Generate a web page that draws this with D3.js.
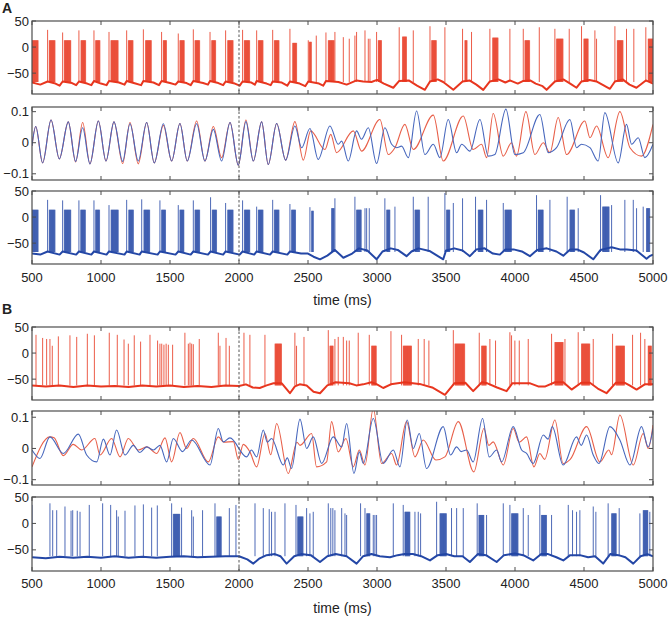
<!DOCTYPE html>
<html><head><meta charset="utf-8">
<script src="https://cdn.jsdelivr.net/npm/d3@7"></script>
<style>body{margin:0;background:#fff}svg{display:block}text{font-family:Arial,"Liberation Sans",Helvetica,sans-serif;fill:#222}</style>
</head><body><svg id="c" width="672" height="620"></svg>
<script>
// ---------------- DATA ----------------
const xTicks=[500,1000,1500,2000,2500,3000,3500,4000,4500,5000];
const vTicks=[-50,0,50];
const lfpTicks=[-0.1,0,0.1];
const markerTime=2000;

// Panel A, top trace (red): single spikes [ms, mV], dense bursts [start, end, plateau mV], baseline [ms, mV]
const spikesA1=[[613,33],[722,28],[840,32],[949,32],[1058,29],[1186,32],[1307,34],[1439,29],[1560,26],[1669,34],[1790,29],[1903,32],[2026,33],[2128,32],[2244,33],[2369,35],[2502,13],[2560,22],[2630,28],[2695,29],[2756,19],[2799,16],[2840,22],[2852,29],[2913,32],[2937,16],[2949,16],[2997,29],[3161,38],[3263,32],[3384,40],[3492,38],[3620,35],[3685,29],[3818,35],[3963,35],[4060,35],[4176,38],[4289,35],[4393,35],[4482,40],[4579,32],[4591,16],[4724,40],[4808,35],[4861,35],[4948,38]];
const burstsA1=[[500,545,13],[625,667,13],[734,782,13],[855,891,13],[961,993,13],[1072,1125,13],[1198,1234,13],[1323,1367,13],[1451,1476,13],[1572,1604,13],[1681,1717,13],[1802,1833,13],[1918,1959,13],[2038,2079,13],[2140,2176,13],[2256,2290,13],[2389,2418,8],[2509,2526,10],[2647,2690,13],[3009,3033,13],[3185,3214,20],[3396,3432,13],[3637,3654,13],[3838,3879,18],[4072,4108,13],[4301,4350,16],[4499,4531,16],[4741,4784,13],[4965,5000,16]];
const baseA1=[[500,-68],[560,-72],[613,-66],[670,-70],[700,-74],[722,-66],[790,-69],[820,-73],[840,-66],[900,-70],[930,-73],[949,-65],[1000,-70],[1040,-73],[1058,-65],[1130,-68],[1170,-72],[1186,-65],[1250,-70],[1290,-73],[1307,-65],[1380,-68],[1420,-73],[1439,-65],[1500,-69],[1540,-72],[1560,-66],[1620,-69],[1650,-73],[1669,-65],[1740,-69],[1775,-72],[1790,-65],[1850,-69],[1885,-73],[1903,-66],[1970,-70],[2005,-74],[2026,-66],[2090,-68],[2115,-72],[2128,-65],[2200,-70],[2230,-73],[2244,-66],[2310,-68],[2350,-74],[2369,-66],[2440,-70],[2480,-75],[2502,-66],[2580,-70],[2610,-74],[2630,-65],[2720,-67],[2780,-72],[2852,-64],[2900,-66],[2960,-67],[3000,-63],[3050,-70],[3118,-78],[3161,-65],[3230,-64],[3290,-74],[3347,-82],[3384,-66],[3440,-62],[3480,-67],[3553,-82],[3620,-66],[3670,-64],[3720,-72],[3770,-82],[3818,-66],[3880,-62],[3930,-68],[3963,-64],[4020,-70],[4060,-65],[4110,-64],[4150,-70],[4200,-75],[4229,-82],[4289,-66],[4350,-62],[4400,-70],[4446,-78],[4482,-66],[4540,-63],[4590,-66],[4688,-80],[4724,-66],[4780,-62],[4830,-72],[4880,-78],[4948,-64],[5000,-70]];

// Panel A, LFP traces (extrema, [ms, value])
const lfpARed=[[500,-0.01],[527,0.052],[577,-0.065],[638,0.073],[698,-0.052],[763,0.067],[816,-0.062],[867,0.065],[920,-0.068],[981,0.07],[1036,-0.059],[1094,0.067],[1157,-0.067],[1210,0.065],[1270,-0.068],[1331,0.065],[1386,-0.065],[1452,0.056],[1512,-0.059],[1572,0.062],[1625,-0.059],[1693,0.07],[1753,-0.059],[1814,0.052],[1874,-0.048],[1935,0.065],[1995,-0.072],[2050,0.073],[2104,-0.059],[2164,0.067],[2212,-0.07],[2273,0.062],[2338,-0.056],[2405,0.068],[2466,-0.056],[2519,0.038],[2623,-0.022],[2665,0.027],[2707,-0.032],[2828,0.038],[2888,-0.027],[3021,0.075],[3082,-0.038],[3130,-0.016],[3202,0.059],[3263,-0.022],[3408,0.089],[3480,-0.059],[3625,0.086],[3697,-0.022],[3758,-0.005],[3794,-0.048],[3842,0.094],[3915,-0.043],[3975,0],[4011,-0.043],[4079,0.1],[4144,-0.038],[4205,0],[4253,-0.032],[4313,0.081],[4374,-0.038],[4506,0.07],[4543,0.016],[4591,0.054],[4675,-0.048],[4760,0.1],[4833,-0.016],[4917,-0.043],[5000,0.059]];
const lfpABlue=[[500,-0.01],[527,0.052],[577,-0.065],[638,0.073],[698,-0.052],[763,0.067],[816,-0.06],[867,0.048],[920,-0.068],[981,0.07],[1036,-0.059],[1094,0.067],[1157,-0.06],[1210,0.061],[1270,-0.059],[1331,0.065],[1386,-0.065],[1452,0.061],[1512,-0.059],[1572,0.062],[1625,-0.059],[1693,0.061],[1753,-0.059],[1814,0.043],[1874,-0.059],[1935,0.065],[1995,-0.072],[2050,0.068],[2104,-0.059],[2164,0.067],[2212,-0.07],[2273,0.062],[2338,-0.056],[2405,0.054],[2454,-0.016],[2514,0.046],[2574,-0.054],[2659,0.054],[2719,-0.005],[2744,0.005],[2792,-0.059],[2852,0.038],[2888,0.011],[2937,0.048],[2997,-0.067],[3057,0.048],[3106,-0.005],[3142,-0.016],[3178,-0.011],[3227,-0.048],[3287,0.102],[3347,-0.038],[3408,-0.005],[3456,-0.048],[3516,0.075],[3577,-0.032],[3614,-0.005],[3673,-0.027],[3746,0.075],[3806,-0.043],[3854,-0.038],[3934,0.108],[3999,-0.038],[4060,-0.032],[4180,0.091],[4241,-0.032],[4301,-0.016],[4398,0.075],[4446,-0.016],[4482,-0.005],[4543,-0.016],[4603,-0.059],[4651,0.097],[4748,-0.065],[4808,0.059],[4845,-0.005],[4893,0.016],[4941,-0.048],[5000,-0.005]];

// Panel A, bottom trace (blue)
const spikesA3=[[613,33],[722,32],[840,32],[949,32],[1058,23],[1186,33],[1295,34],[1427,32],[1560,23],[1669,32],[1794,38],[1903,27],[2026,32],[2128,20],[2244,33],[2369,25],[2514,19],[2695,36],[2840,39],[2913,17],[2925,17],[2944,17],[3057,36],[3130,20],[3263,39],[3371,39],[3492,46],[3553,27],[3620,36],[3714,39],[3794,33],[3915,27],[4156,42],[4253,33],[4378,39],[4458,17],[4620,42],[4700,23],[4796,33],[4857,33],[4881,17],[4929,20]];
const burstsA3=[[500,545,14],[625,667,14],[734,782,14],[853,889,14],[961,992,14],[1073,1126,14],[1201,1237,14],[1311,1355,14],[1439,1470,14],[1572,1603,14],[1681,1717,14],[1806,1838,14],[1918,1959,14],[2039,2080,14],[2140,2176,14],[2256,2290,14],[2381,2410,14],[2526,2540,12],[2671,2690,17],[2852,2888,14],[3070,3094,14],[3275,3311,14],[3504,3528,14],[3734,3770,14],[3927,3975,14],[4168,4205,14],[4398,4434,14],[4635,4683,20],[4953,4977,17]];
const baseA3=[[500,-70],[560,-72],[613,-66],[700,-72],[722,-66],[820,-72],[840,-66],[930,-72],[949,-66],[1040,-72],[1058,-66],[1170,-72],[1186,-66],[1280,-72],[1295,-66],[1410,-72],[1427,-66],[1540,-72],[1560,-66],[1650,-72],[1669,-66],[1775,-72],[1794,-66],[1885,-72],[1903,-66],[2005,-72],[2026,-66],[2110,-72],[2128,-66],[2225,-72],[2244,-66],[2350,-72],[2369,-66],[2450,-70],[2500,-70],[2540,-76],[2587,-81],[2640,-74],[2695,-63],[2756,-78],[2820,-70],[2870,-60],[2930,-64],[2997,-81],[3040,-66],[3100,-60],[3150,-63],[3214,-75],[3250,-66],[3300,-60],[3380,-65],[3480,-81],[3500,-64],[3560,-60],[3620,-64],[3673,-75],[3720,-62],[3780,-60],[3840,-70],[3890,-72],[3930,-62],[3990,-62],[4050,-66],[4108,-75],[4160,-63],[4230,-60],[4300,-66],[4350,-74],[4400,-62],[4450,-62],[4500,-68],[4567,-81],[4620,-63],[4700,-58],[4760,-62],[4810,-62],[4880,-64],[4953,-80],[4975,-75],[5000,-72]];

// Panel B, top trace (red)
const spikesB1=[[529,35],[577,29],[606,27],[630,27],[647,14],[691,32],[775,34],[824,31],[901,37],[952,34],[1060,39],[1118,35],[1167,26],[1198,18],[1241,34],[1287,22],[1355,35],[1410,24],[1427,18],[1440,18],[1456,16],[1472,18],[1488,16],[1519,16],[1608,39],[1633,18],[1645,20],[1657,18],[1669,17],[1712,27],[1850,39],[1862,14],[1906,29],[1930,14],[2036,39],[2079,35],[2188,35],[2405,39],[2417,14],[2471,31],[2647,44],[2695,27],[2719,31],[2756,31],[2780,24],[2799,24],[2864,39],[2944,35],[3101,42],[3178,35],[3299,27],[3342,27],[3376,24],[3553,44],[3741,39],[3818,27],[3859,24],[3963,40],[3975,34],[3999,24],[4031,24],[4096,27],[4265,37],[4362,27],[4458,40],[4567,27],[4707,37],[4852,35],[4910,39],[4941,27]];
const burstsB1=[[2261,2309,18],[2659,2683,14],[2961,2997,14],[3190,3251,14],[3565,3637,18],[3758,3794,14],[4289,4350,21],[4482,4543,18],[4731,4796,14],[4965,4989,14]];
const baseB1=[[500,-62],[600,-64],[700,-62],[800,-65],[900,-62],[1000,-64],[1100,-63],[1200,-65],[1300,-62],[1400,-64],[1500,-62],[1600,-65],[1700,-63],[1800,-65],[1900,-62],[2000,-63],[2050,-60],[2100,-66],[2150,-67],[2200,-62],[2250,-58],[2310,-58],[2369,-77],[2405,-64],[2440,-60],[2490,-62],[2540,-74],[2587,-77],[2640,-62],[2700,-56],[2800,-58],[2850,-62],[2900,-60],[2960,-56],[3000,-60],[3045,-67],[3100,-60],[3200,-56],[3260,-58],[3320,-60],[3400,-66],[3492,-80],[3560,-58],[3640,-57],[3697,-73],[3760,-56],[3800,-58],[3870,-66],[3939,-73],[3980,-58],[4040,-58],[4110,-58],[4168,-64],[4220,-64],[4290,-56],[4350,-56],[4410,-70],[4480,-57],[4543,-57],[4600,-68],[4663,-77],[4730,-57],[4796,-57],[4830,-62],[4881,-70],[4940,-60],[5000,-60]];

// Panel B, LFP traces (extrema)
const lfpBRed=[[500,-0.059],[630,0.037],[660,0.034],[727,-0.023],[799,0.013],[860,-0.005],[956,0.032],[993,-0.021],[1077,0.032],[1138,-0.027],[1198,0.032],[1270,-0.005],[1331,0.005],[1403,-0.016],[1464,0.034],[1512,-0.043],[1572,0.051],[1620,0.0],[1669,0.032],[1778,-0.043],[1850,0.037],[1890,0.02],[1959,0.022],[1995,-0.035],[2031,0.013],[2079,-0.011],[2128,-0.059],[2188,0.048],[2230,-0.02],[2273,0.08],[2357,-0.08],[2420,0.02],[2442,0.01],[2526,0.048],[2562,-0.059],[2635,-0.043],[2671,0.086],[2719,-0.011],[2775,0.032],[2828,-0.059],[2872,-0.005],[2913,-0.053],[2973,0.128],[3033,-0.048],[3106,-0.016],[3142,-0.053],[3214,0.086],[3275,-0.027],[3335,0.027],[3427,-0.037],[3492,-0.027],[3589,0.086],[3702,-0.075],[3775,0.064],[3810,0.01],[3842,0.021],[3915,-0.053],[3987,0.064],[4030,0.02],[4084,0.037],[4137,-0.059],[4180,-0.016],[4215,-0.035],[4289,0.091],[4349,-0.048],[4400,-0.035],[4519,0.07],[4615,-0.043],[4680,-0.005],[4700,-0.02],[4760,0.107],[4857,-0.053],[4929,0.048],[4965,0],[5000,0.075]];
const lfpBBlue=[[500,-0.005],[558,-0.032],[630,0.037],[727,-0.016],[836,0.046],[896,-0.021],[969,-0.043],[1017,0.03],[1065,-0.021],[1113,0.059],[1174,-0.021],[1234,0.01],[1282,-0.013],[1331,0.005],[1380,-0.005],[1427,0.01],[1476,-0.043],[1524,0.032],[1590,-0.01],[1657,0.027],[1790,-0.053],[1850,0.064],[1886,0.021],[1934,0.034],[2055,-0.027],[2090,-0.005],[2128,-0.027],[2176,0.059],[2205,0.02],[2236,0.032],[2321,-0.053],[2350,-0.03],[2381,-0.064],[2442,0.094],[2490,0.0],[2538,0.037],[2599,-0.048],[2683,0.037],[2744,0.005],[2780,0.08],[2833,-0.08],[2872,-0.011],[2901,-0.048],[2973,0.096],[3045,-0.048],[3118,-0.005],[3166,-0.059],[3219,0.091],[3263,0],[3306,0.048],[3359,-0.064],[3480,0.07],[3533,-0.021],[3577,0.005],[3610,-0.01],[3649,-0.005],[3697,-0.043],[3765,0.096],[3813,-0.027],[3867,-0.005],[3903,-0.043],[3987,0.07],[4048,-0.005],[4084,-0.016],[4132,-0.048],[4205,0.043],[4240,0.03],[4270,0.07],[4349,-0.053],[4446,0.037],[4480,0.01],[4519,0.043],[4567,-0.021],[4608,-0.048],[4688,0.07],[4760,0.027],[4833,-0.053],[4917,0.07],[4965,0.005],[5000,0.064]];

// Panel B, bottom trace (blue)
const spikesB3=[[500,35],[630,38],[650,25],[679,25],[739,32],[783,24],[795,25],[828,24],[848,22],[915,35],[1012,38],[1070,35],[1113,25],[1125,13],[1174,24],[1246,34],[1307,36],[1367,30],[1408,34],[1512,38],[1584,30],[1657,25],[1669,13],[1736,25],[1826,38],[1930,29],[1978,35],[2116,38],[2176,29],[2219,27],[2236,22],[2261,22],[2333,38],[2413,35],[2490,29],[2514,19],[2538,22],[2647,38],[2665,29],[2680,29],[2695,25],[2744,29],[2768,19],[2780,16],[2881,38],[2913,29],[2973,16],[2985,16],[2997,16],[3118,38],[3190,35],[3275,22],[3299,22],[3316,19],[3432,41],[3540,29],[3577,29],[3625,29],[3726,38],[3794,16],[3915,38],[3963,35],[4060,29],[4096,16],[4180,35],[4265,16],[4386,35],[4417,25],[4446,22],[4470,25],[4567,32],[4586,22],[4675,38],[4755,29],[4905,19],[4977,22]];
const burstsB3=[[1524,1572,18],[1838,1874,13],[2425,2466,13],[2925,2949,19],[3202,3239,22],[3456,3504,19],[3738,3775,16],[3975,4023,19],[4192,4229,16],[4700,4736,19],[4929,4965,25]];
const baseB3=[[500,-64],[600,-66],[700,-63],[800,-65],[900,-63],[1000,-65],[1100,-62],[1200,-65],[1300,-63],[1400,-65],[1500,-63],[1600,-62],[1700,-64],[1800,-63],[1900,-62],[2000,-62],[2060,-68],[2104,-76],[2150,-66],[2200,-60],[2260,-58],[2300,-62],[2345,-76],[2400,-62],[2450,-58],[2520,-60],[2587,-73],[2640,-62],[2700,-58],[2780,-62],[2852,-76],[2900,-62],[2960,-58],[3020,-62],[3094,-64],[3150,-60],[3200,-58],[3260,-58],[3320,-62],[3384,-70],[3440,-60],[3500,-58],[3560,-62],[3620,-62],[3673,-73],[3730,-58],[3790,-60],[3867,-73],[3920,-60],[4000,-57],[4060,-60],[4132,-70],[4190,-58],[4240,-58],[4300,-64],[4350,-70],[4400,-60],[4470,-60],[4530,-64],[4580,-62],[4639,-76],[4690,-58],[4750,-60],[4800,-64],[4857,-76],[4910,-62],[4960,-58],[5000,-62]];

// ---------------- STYLE / LAYOUT ----------------
const RED="#e8361f", BLUE="#2447a6", LRED="#e8604a", LBLUE="#4767bd", AXIS="#4d4d4d";
const svg=d3.select("#c");
const x=d3.scaleLinear().domain([500,5000]).range([32,653]);

const panels=[
 {top:21,bottom:94,dom:[-90,50],ticks:vTicks,type:"spk",color:RED,spikes:spikesA1,bursts:burstsA1,base:baseA1,foot:-67},
 {top:107,bottom:180,dom:[-0.12,0.115],ticks:lfpTicks,type:"lfp",red:lfpARed,blue:lfpABlue},
 {top:191,bottom:264,dom:[-90,50],ticks:vTicks,type:"spk",color:BLUE,spikes:spikesA3,bursts:burstsA3,base:baseA3,foot:-67,xlab:277,title:300},
 {top:327,bottom:400,dom:[-90,50],ticks:vTicks,type:"spk",color:RED,spikes:spikesB1,bursts:burstsB1,base:baseB1,foot:-62},
 {top:411,bottom:485,dom:[-0.117,0.12],ticks:lfpTicks,type:"lfp",red:lfpBRed,blue:lfpBBlue},
 {top:497,bottom:571,dom:[-90,50],ticks:vTicks,type:"spk",color:BLUE,spikes:spikesB3,bursts:burstsB3,base:baseB3,foot:-62,xlab:583,title:608}
];

const fmt=v=>{ if(v===0) return "0"; const s=String(Math.abs(v)); return (v<0?"\u2212":"")+s; };

panels.forEach((p,i)=>{
  const y=d3.scaleLinear().domain(p.dom).range([p.bottom,p.top]);
  const g=svg.append("g");
  const cid="clip"+i;
  svg.append("clipPath").attr("id",cid).append("rect")
     .attr("x",x(500)).attr("y",p.top).attr("width",x(5000)-x(500)).attr("height",p.bottom-p.top);
  const data=g.append("g").attr("clip-path",`url(#${cid})`);
  if(p.type==="spk"){
    const line=d3.line().x(d=>x(d[0])).y(d=>y(d[1]));
    data.append("path").attr("d",line(p.base)).attr("fill","none")
        .attr("stroke",p.color).attr("stroke-width",2).attr("stroke-linejoin","round");
    const dense=[];
    p.bursts.forEach(b=>{ for(let t=b[0]; t<=b[1]; t+=2.6) dense.push([t,b[2]]); });
    data.selectAll("line.bu").data(dense).join("line").attr("class","bu")
      .attr("x1",d=>x(d[0])).attr("x2",d=>x(d[0]))
      .attr("y1",y(p.foot)).attr("y2",d=>y(d[1]))
      .attr("stroke",p.color).attr("stroke-width",0.75).attr("stroke-opacity",0.75);
    data.selectAll("line.sp").data(p.spikes).join("line").attr("class","sp")
      .attr("x1",d=>x(d[0])).attr("x2",d=>x(d[0]))
      .attr("y1",y(p.foot)).attr("y2",d=>y(d[1]))
      .attr("stroke",p.color).attr("stroke-width",0.9).attr("stroke-opacity",0.9);
  } else {
    const line=d3.line().x(d=>x(d[0])).y(d=>y(d[1])).curve(d3.curveMonotoneX);
    data.append("path").attr("d",line(p.red)).attr("fill","none").attr("stroke",LRED).attr("stroke-width",1.1);
    data.append("path").attr("d",line(p.blue)).attr("fill","none").attr("stroke",LBLUE).attr("stroke-width",1.1);
  }
  g.append("line").attr("x1",x(markerTime)).attr("x2",x(markerTime)).attr("y1",p.top).attr("y2",p.bottom)
   .attr("stroke","#555").attr("stroke-width",1).attr("stroke-dasharray","2.5,2");
  g.append("rect").attr("x",x(500)).attr("y",p.top).attr("width",x(5000)-x(500)).attr("height",p.bottom-p.top)
   .attr("fill","none").attr("stroke",AXIS).attr("stroke-width",1.2);
  const tl=4;
  xTicks.forEach(t=>{
    g.append("line").attr("x1",x(t)).attr("x2",x(t)).attr("y1",p.bottom).attr("y2",p.bottom-tl).attr("stroke",AXIS);
    g.append("line").attr("x1",x(t)).attr("x2",x(t)).attr("y1",p.top).attr("y2",p.top+tl).attr("stroke",AXIS);
  });
  p.ticks.forEach(v=>{
    g.append("line").attr("x1",x(500)).attr("x2",x(500)+tl).attr("y1",y(v)).attr("y2",y(v)).attr("stroke",AXIS);
    g.append("line").attr("x1",x(5000)).attr("x2",x(5000)-tl).attr("y1",y(v)).attr("y2",y(v)).attr("stroke",AXIS);
    g.append("text").attr("x",x(500)-3).attr("y",y(v)).attr("dy","0.35em").attr("text-anchor","end")
     .attr("font-size",13).text(fmt(v));
  });
  if(p.xlab){
    xTicks.forEach(t=>{
      g.append("text").attr("x",x(t)).attr("y",p.xlab).attr("dy","0.35em").attr("text-anchor","middle")
       .attr("font-size",13).text(t);
    });
    g.append("text").attr("x",(x(500)+x(5000))/2).attr("y",p.title).attr("dy","0.35em").attr("text-anchor","middle")
     .attr("font-size",14).text("time (ms)");
  }
});
svg.append("text").attr("x",2).attr("y",13).attr("font-size",14).attr("font-weight","bold").text("A");
svg.append("text").attr("x",2).attr("y",314).attr("font-size",14).attr("font-weight","bold").text("B");
</script></body></html>
